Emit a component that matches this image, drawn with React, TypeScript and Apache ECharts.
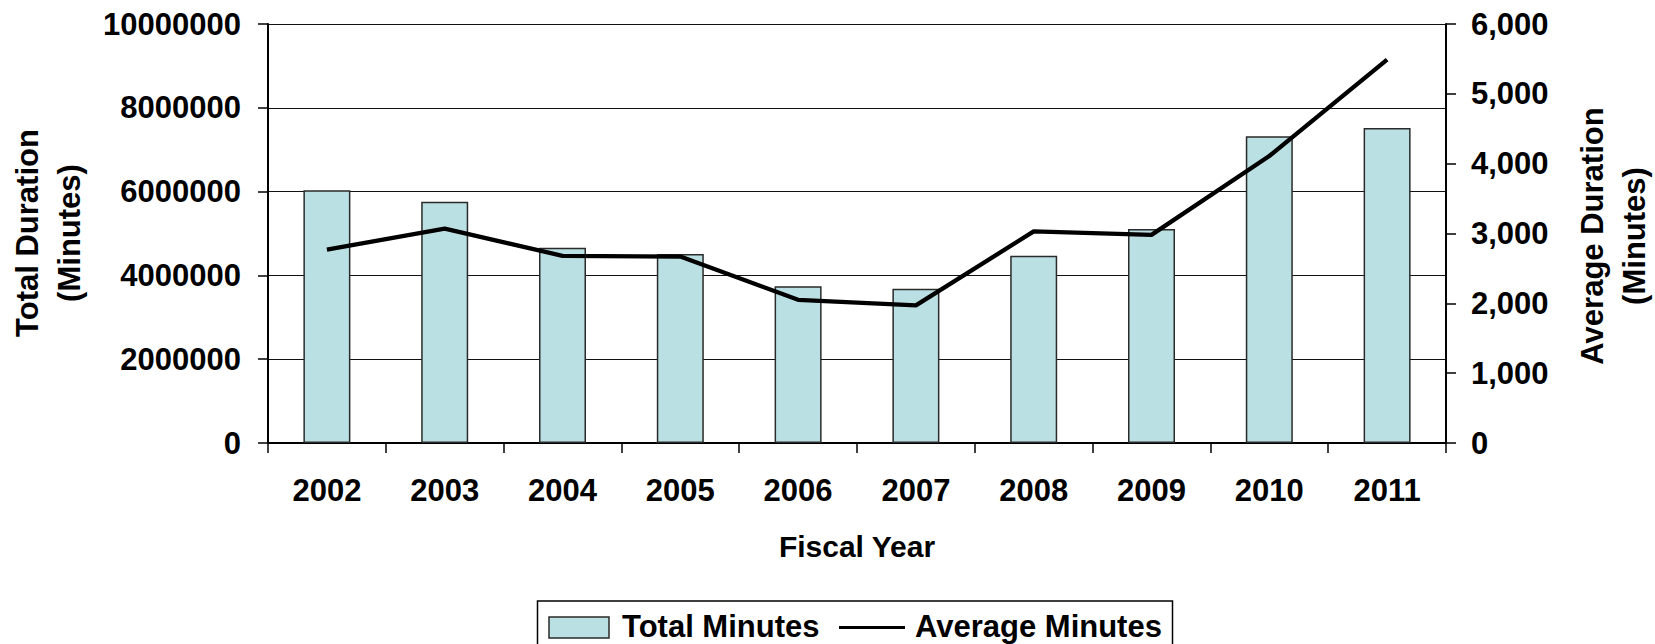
import React, { useEffect, useRef } from "react";
import * as echarts from "echarts";

// Fiscal years on the category axis
const years = ["2002", "2003", "2004", "2005", "2006", "2007", "2008", "2009", "2010", "2011"];

// Total duration per year, in minutes (bars, left axis)
const totalMinutes = [6030000, 5760000, 4660000, 4510000, 3740000, 3680000, 4470000, 5110000, 7320000, 7520000];

// Average duration per year, in minutes (line, right axis)
const averageMinutes = [2770, 3070, 2680, 2670, 2050, 1970, 3030, 2980, 4110, 5490];

// Legend entries
const legendBarLabel = "Total Minutes";
const legendLineLabel = "Average Minutes";

const FONT = "'Liberation Sans', Arial, Helvetica, sans-serif";
const BAR_FILL = "#BBE0E3";
const BAR_EDGE = "#2a2a2a";

export default function App() {
  const ref = useRef<HTMLDivElement>(null);

  useEffect(() => {
    if (!ref.current) return;
    const chart = echarts.init(ref.current, undefined, { renderer: "svg" });

    const axisTitle = {
      fontFamily: FONT,
      fontWeight: "bold",
      fontSize: 31,
      fill: "#000",
      textAlign: "center",
      textVerticalAlign: "middle",
      lineHeight: 42,
    };

    const legendText = {
      fontFamily: FONT,
      fontWeight: "bold",
      fontSize: 31,
      fill: "#000",
      textAlign: "left",
      textVerticalAlign: "middle",
    };

    chart.setOption({
      animation: false,
      backgroundColor: "#fff",
      textStyle: { fontFamily: FONT, color: "#000" },
      grid: { left: 268, right: 209, top: 24, bottom: 201, containLabel: false },
      legend: { show: false },
      xAxis: {
        type: "category",
        data: years,
        boundaryGap: true,
        axisLine: { show: true, lineStyle: { color: "#000", width: 2 } },
        axisTick: { show: true, interval: 0, length: 10, lineStyle: { color: "#000", width: 1.5 } },
        axisLabel: { margin: 32, fontSize: 31, fontWeight: "bold", color: "#000", fontFamily: FONT },
        splitLine: { show: false },
      },
      yAxis: [
        {
          type: "value",
          min: 0,
          max: 10000000,
          interval: 2000000,
          axisLine: { show: true, lineStyle: { color: "#000", width: 2 } },
          axisTick: { show: true, length: 10, lineStyle: { color: "#000", width: 1.5 } },
          axisLabel: {
            margin: 27,
            fontSize: 31,
            fontWeight: "bold",
            color: "#000",
            fontFamily: FONT,
            formatter: (v: number) => String(v),
          },
          splitLine: { show: true, lineStyle: { color: "#111", width: 1.2 } },
        },
        {
          type: "value",
          position: "right",
          min: 0,
          max: 6000,
          interval: 1000,
          axisLine: { show: true, lineStyle: { color: "#000", width: 2 } },
          axisTick: { show: true, length: 10, lineStyle: { color: "#000", width: 1.5 } },
          axisLabel: {
            margin: 25,
            fontSize: 31,
            fontWeight: "bold",
            color: "#000",
            fontFamily: FONT,
            formatter: (v: number) => v.toLocaleString("en-US"),
          },
          splitLine: { show: false },
        },
      ],
      series: [
        {
          name: legendBarLabel,
          type: "bar",
          yAxisIndex: 0,
          data: totalMinutes,
          barWidth: 47,
          itemStyle: { color: BAR_FILL, borderColor: BAR_EDGE, borderWidth: 1.5 },
        },
        {
          name: legendLineLabel,
          type: "line",
          yAxisIndex: 1,
          data: averageMinutes,
          symbol: "none",
          showSymbol: false,
          lineStyle: { color: "#000", width: 4.3 },
          itemStyle: { color: "#000" },
          z: 5,
        },
      ],
      graphic: [
        {
          type: "text",
          x: 48,
          y: 233,
          rotation: Math.PI / 2,
          style: { ...axisTitle, text: "Total Duration\n(Minutes)" },
        },
        {
          type: "text",
          x: 1613,
          y: 236,
          rotation: Math.PI / 2,
          style: { ...axisTitle, text: "Average Duration\n(Minutes)" },
        },
        {
          type: "text",
          x: 857,
          y: 546,
          style: {
            text: "Fiscal Year",
            fontFamily: FONT,
            fontWeight: "bold",
            fontSize: 30,
            fill: "#000",
            textAlign: "center",
            textVerticalAlign: "middle",
          },
        },
        // legend box
        {
          type: "group",
          children: [
            {
              type: "rect",
              shape: { x: 537.5, y: 601, width: 635, height: 70 },
              style: { fill: "#fff", stroke: "#000", lineWidth: 1.5 },
            },
            {
              type: "rect",
              shape: { x: 549, y: 617, width: 60, height: 21 },
              style: { fill: BAR_FILL, stroke: BAR_EDGE, lineWidth: 1.5 },
            },
            {
              type: "text",
              x: 622,
              y: 626,
              style: { ...legendText, text: legendBarLabel },
            },
            {
              type: "line",
              shape: { x1: 839, y1: 627.5, x2: 905, y2: 627.5 },
              style: { stroke: "#000", lineWidth: 3 },
            },
            {
              type: "text",
              x: 915,
              y: 626,
              style: { ...legendText, text: legendLineLabel },
            },
          ],
        },
      ],
    });

    return () => {
      chart.dispose();
    };
  }, []);

  return (
    <div
      ref={ref}
      style={{ position: "fixed", left: 0, top: 0, width: 1655, height: 644, background: "#fff" }}
    />
  );
}
